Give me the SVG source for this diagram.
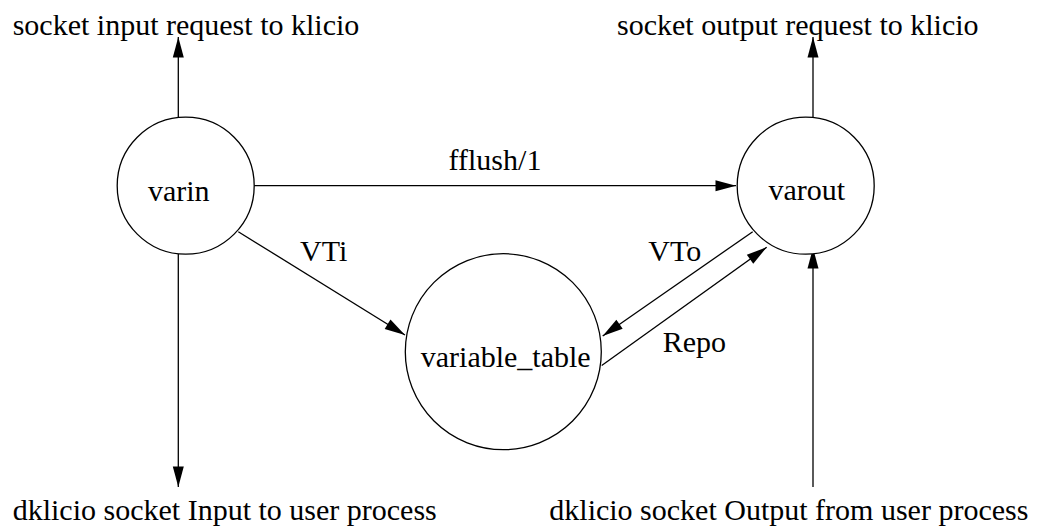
<svg xmlns="http://www.w3.org/2000/svg" width="1037" height="531" viewBox="0 0 1037 531">
<defs>
<style>
.node{fill:#fff;stroke:#000;stroke-width:1.3}
.edge{fill:none;stroke:#000;stroke-width:1.3}
text{font-family:"Liberation Serif","Times New Roman",serif;font-size:30px;fill:#000}
.c{text-anchor:middle}
</style>
<marker id="ah" markerUnits="userSpaceOnUse" markerWidth="22" markerHeight="12" viewBox="0 0 21 12" refX="20.5" refY="6" orient="auto">
<path d="M0,0.5 L20.5,6 L0,11.5 z" fill="#000"/>
</marker>
</defs>
<rect width="1037" height="531" fill="#fff"/>
<g id="connectors">
<line class="edge" x1="178.3" y1="125" x2="178.3" y2="37" marker-end="url(#ah)"/>
<line class="edge" x1="178.3" y1="247" x2="178.3" y2="487" marker-end="url(#ah)"/>
<line class="edge" x1="254" y1="185.7" x2="736" y2="185.7" marker-end="url(#ah)"/>
<line class="edge" x1="238.3" y1="231.7" x2="405" y2="335" marker-end="url(#ah)"/>
<line class="edge" x1="752.7" y1="231.7" x2="602.7" y2="336" marker-end="url(#ah)"/>
<line class="edge" x1="601.7" y1="365.5" x2="766.7" y2="247.3" marker-end="url(#ah)"/>
<line class="edge" x1="813" y1="125" x2="813" y2="37" marker-end="url(#ah)"/>
<line class="edge" x1="813" y1="487" x2="813" y2="248" marker-end="url(#ah)"/>
<text x="495" y="170" class="c">fflush/1</text>
<text x="300" y="260.7">VTi</text>
<text x="648.3" y="260.7">VTo</text>
<text x="662.7" y="351.7">Repo</text>
</g>
<g id="varin">
<circle class="node" cx="185.7" cy="185.7" r="68.5"/>
<text x="178.7" y="201" class="c">varin</text>
</g>
<g id="varout">
<circle class="node" cx="805.7" cy="185.7" r="68.5"/>
<text x="806.7" y="200" class="c">varout</text>
</g>
<g id="variable_table">
<circle class="node" cx="503.3" cy="351.7" r="98"/>
<text x="505.7" y="366.7" class="c">variable_table</text>
</g>
<g id="labels">
<text x="12.7" y="35">socket input request to klicio</text>
<text x="617" y="35">socket output request to klicio</text>
<text x="12.7" y="520">dklicio socket Input to user process</text>
<text x="549.3" y="520">dklicio socket Output from user process</text>
</g>
</svg>
